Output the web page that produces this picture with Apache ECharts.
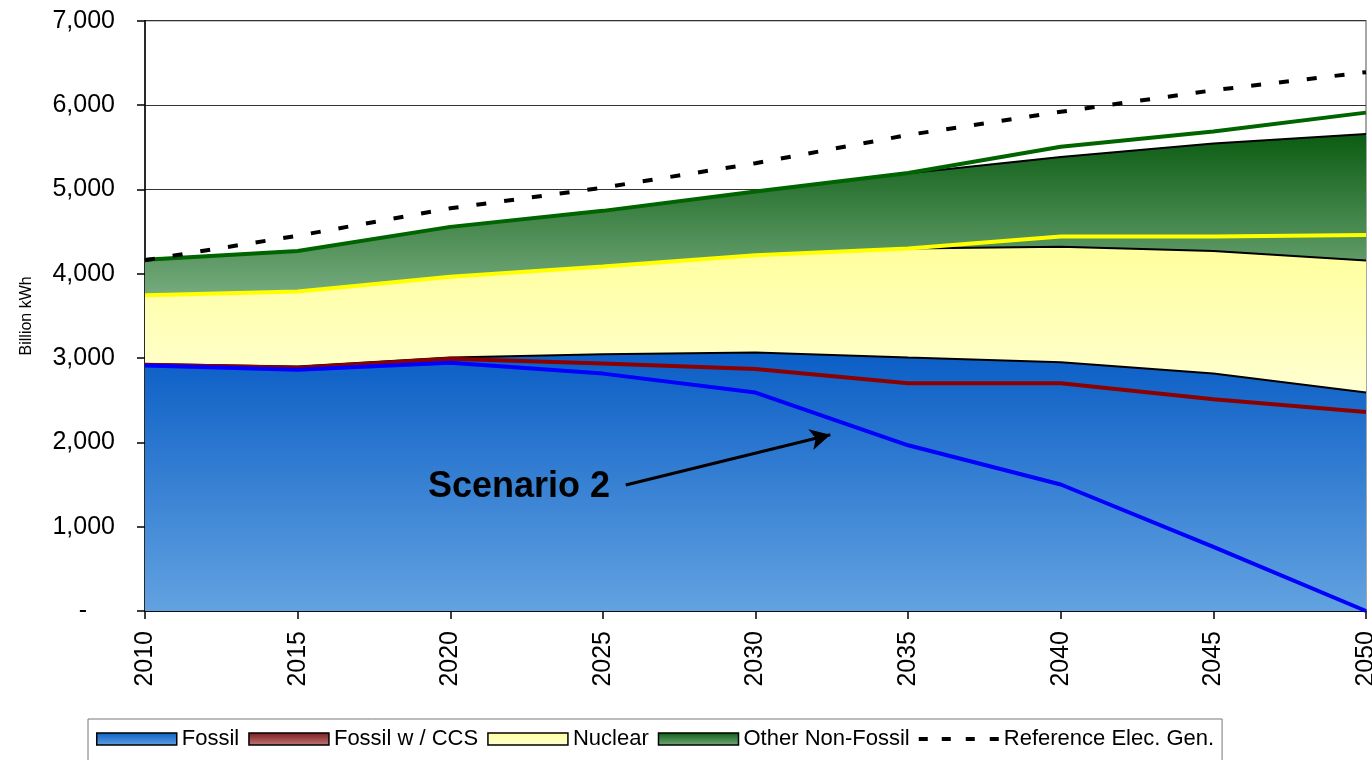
<!DOCTYPE html>
<html>
<head>
<meta charset="utf-8">
<script src="https://cdn.jsdelivr.net/npm/echarts@6/dist/echarts.min.js"></script>
<style>
html,body{margin:0;padding:0;background:#fff;}
#c{width:1372px;height:760px;}
</style>
</head>
<body>
<div id="c"></div>
<script>
const years = ['2010', '2015', '2020', '2025', '2030', '2035', '2040', '2045', '2050'];
// Stacked areas (Billion kWh)
const fossil = [2930, 2900, 3005, 3045, 3065, 3005, 2950, 2815, 2590];
const fossilCCS = [0, 0, 0, 0, 0, 0, 0, 0, 0];
const nuclear = [815, 890, 960, 1040, 1155, 1295, 1370, 1455, 1565];
const otherNonFossil = [415, 480, 590, 660, 755, 890, 1065, 1275, 1500];
// Scenario 2 lines (cumulative levels)
const scen2Fossil = [2910, 2860, 2945, 2815, 2590, 1965, 1500, 760, 0];
const scen2FossilCCS = [2920, 2885, 2990, 2935, 2870, 2700, 2700, 2510, 2360];
const scen2Nuclear = [3745, 3790, 3965, 4085, 4220, 4300, 4440, 4440, 4460];
const scen2Total = [4165, 4270, 4555, 4745, 4975, 5195, 5505, 5685, 5910];
// Reference electricity generation
const referenceGen = [4160, 4450, 4775, 5020, 5310, 5645, 5920, 6175, 6390];
const annotationText = 'Scenario 2';

const grad = (top, bottom) => new echarts.graphic.LinearGradient(0, 0, 0, 1, [
  {offset: 0, color: top}, {offset: 1, color: bottom}
]);
const FONT = '"Liberation Sans", Arial, sans-serif';

const cFossil = grad('#0b5ec6', '#62a2e0');
const cCCS = grad('#7a1a1a', '#c27a7a');
const cNuc = grad('#ffff9c', '#ffffd2');
const cOther = grad('#0b5c12', '#76ab7e');

const dashIcon = 'path://M0,0L0.01,0L0,0Z M80,12L79.99,12L80,12Z M0,4h9v4h-9z M23,4h9v4h-9z M47,4h9v4h-9z M71,4h9v4h-9z';

const chart = echarts.init(document.getElementById('c'), null, {renderer: 'canvas'});

function areaSeries(name, data, color, lw) {
  return {
    name, type: 'line', stack: 'gen', data: data, symbol: 'none',
    lineStyle: {color: '#000', width: lw},
    itemStyle: {color: color, borderColor: '#000'},
    areaStyle: {color: color, opacity: 1},
    z: 2, silent: true
  };
}
function scenLine(name, data, color) {
  return {
    name, type: 'line', data: data, symbol: 'none',
    lineStyle: {color: color, width: 4}, itemStyle: {color: color}, z: 4, silent: true
  };
}

chart.setOption({
  animation: false,
  backgroundColor: '#fff',
  grid: {left: 145, right: 6, top: 20.7, bottom: 149, outerBoundsMode: 'none', containLabel: false,
    show: true, borderColor: '#8a8a8a', borderWidth: 1.5, backgroundColor: 'transparent'},
  xAxis: [{
    type: 'category', data: years, boundaryGap: false,
    axisLine: {lineStyle: {color: '#000', width: 1.5}},
    axisTick: {show: true, length: 8, alignWithLabel: true, lineStyle: {color: '#000', width: 1.5}},
    axisLabel: {rotate: 90, fontFamily: FONT, fontSize: 25, color: '#000', margin: 20},
    splitLine: {show: false}
  }, {
    type: 'value', min: 2010, max: 2050, show: false, position: 'bottom'
  }],
  yAxis: {
    type: 'value', min: 0, max: 7000, interval: 1000,
    name: 'Billion kWh', nameLocation: 'middle', nameGap: 110, nameRotate: 90,
    nameTextStyle: {fontFamily: FONT, fontSize: 16, color: '#000'},
    axisLine: {show: true, lineStyle: {color: '#000', width: 1.5}},
    axisTick: {show: true, length: 8, lineStyle: {color: '#000', width: 1.5}},
    axisLabel: {
      fontFamily: FONT, fontSize: 25, color: '#000', margin: 30,
      formatter: v => v === 0 ? '{d|-}' : v.toLocaleString('en-US'),
      rich: {d: {fontFamily: FONT, fontSize: 25, color: '#000', padding: [0, 28, 0, 0]}}
    },
    splitLine: {show: true, lineStyle: {color: '#333', width: 1.2}}
  },
  legend: {
    left: 88, top: 719, orient: 'horizontal',
    borderColor: '#777', borderWidth: 1, padding: [9, 8, 16, 8],
    itemWidth: 80, itemHeight: 12, itemGap: 9,
    textStyle: {fontFamily: FONT, fontSize: 22, color: '#000'},
    data: [
      {name: 'Fossil', icon: 'rect', itemStyle: {color: cFossil, borderColor: '#000', borderWidth: 1.5}},
      {name: 'Fossil w / CCS', icon: 'rect', itemStyle: {color: cCCS, borderColor: '#000', borderWidth: 1.5}},
      {name: 'Nuclear', icon: 'rect', itemStyle: {color: cNuc, borderColor: '#000', borderWidth: 1.5}},
      {name: 'Other Non-Fossil', icon: 'rect', itemStyle: {color: cOther, borderColor: '#000', borderWidth: 1.5}},
      {name: 'Reference Elec. Gen.', icon: dashIcon, itemStyle: {color: '#000', borderWidth: 0}}
    ]
  },
  series: [
    areaSeries('Fossil', fossil, cFossil, 2),
    areaSeries('Fossil w / CCS', fossilCCS, cCCS, 0),
    areaSeries('Nuclear', nuclear, cNuc, 2),
    areaSeries('Other Non-Fossil', otherNonFossil, cOther, 2),
    scenLine('Scenario 2 Total', scen2Total, '#006400'),
    scenLine('Scenario 2 Nuclear', scen2Nuclear, '#ffff00'),
    scenLine('Scenario 2 Fossil w / CCS', scen2FossilCCS, '#8b0000'),
    scenLine('Scenario 2 Fossil', scen2Fossil, '#0000ff'),
    {
      name: 'Reference Elec. Gen.', type: 'line', data: referenceGen, symbol: 'none',
      lineStyle: {color: '#000', width: 4, type: [10, 18]},
      itemStyle: {color: '#000'}, z: 5, silent: true
    },
    {
      name: 'annotation', type: 'line', xAxisIndex: 1, data: [], symbol: 'none', z: 6, silent: true,
      markLine: {
        silent: true, symbol: ['none', 'arrow'], symbolSize: [16, 20],
        lineStyle: {color: '#000', width: 3, type: 'solid'},
        label: {show: false},
        data: [[{coord: [2025.75, 1495]}, {coord: [2032.45, 2090]}]]
      },
      markPoint: {
        silent: true, symbol: 'rect', symbolSize: 0,
        label: {show: true, position: 'inside', formatter: annotationText,
          fontFamily: FONT, fontSize: 36, fontWeight: 'bold', color: '#000'},
        data: [{coord: [2022.25, 1470]}]
      }
    }
  ]
});
</script>
</body>
</html>
